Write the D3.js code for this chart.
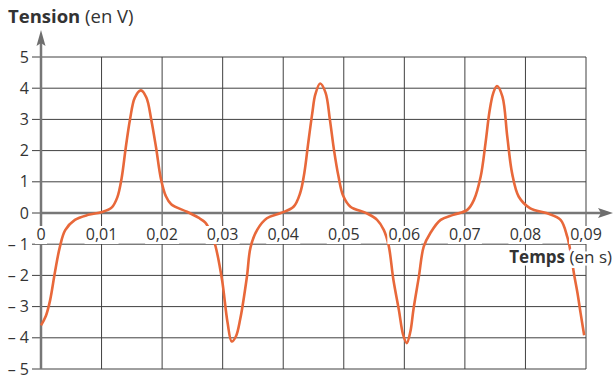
<!DOCTYPE html>
<html>
<head>
<meta charset="utf-8">
<script src="https://cdn.jsdelivr.net/npm/d3@7"></script>
<style>
  body { margin: 0; background: #fff; }
  svg { display: block; font-family: 'Open Sans', sans-serif; }
</style>
</head>
<body>
<div id="chart"></div>
<script>
// data
var times = [0.0000, 0.0008, 0.0015, 0.0023, 0.0031, 0.0040, 0.0056, 0.0078, 0.0101, 0.0117,
    0.0126, 0.0133, 0.0140, 0.0147, 0.0155, 0.0165, 0.0174, 0.0182, 0.0190, 0.0198,
    0.0206, 0.0215, 0.0241, 0.0260, 0.0271, 0.0280, 0.0288, 0.0299, 0.0308, 0.0315,
    0.0322, 0.0329, 0.0340, 0.0346, 0.0357, 0.0373, 0.0395, 0.0417, 0.0428, 0.0435,
    0.0441, 0.0448, 0.0453, 0.0461, 0.0470, 0.0477, 0.0484, 0.0491, 0.0499, 0.0511,
    0.0538, 0.0555, 0.0566, 0.0574, 0.0582, 0.0591, 0.0598, 0.0604, 0.0610, 0.0615,
    0.0624, 0.0632, 0.0643, 0.0660, 0.0681, 0.0704, 0.0715, 0.0726, 0.0734, 0.0741,
    0.0747, 0.0753, 0.0762, 0.0770, 0.0778, 0.0789, 0.0808, 0.0836, 0.0858, 0.0869,
    0.0875, 0.0880, 0.0886, 0.0891, 0.0897];
var tension = [-3.6, -3.3, -2.8, -1.9, -1.1, -0.55, -0.22, -0.06, 0.03, 0.18,
    0.5, 1.1, 2.1, 3.0, 3.7, 3.93, 3.7, 3.0, 2.1, 1.1,
    0.55, 0.28, 0.04, -0.15, -0.3, -0.6, -1.05, -2.15, -3.5, -4.12,
    -3.95, -3.4, -2.05, -1.1, -0.54, -0.17, -0.01, 0.2, 0.64, 1.3,
    2.2, 3.2, 3.8, 4.15, 3.85, 3.0, 2.0, 1.2, 0.55, 0.2,
    -0.01, -0.22, -0.54, -1.03, -2.15, -3.11, -3.9, -4.17, -3.8, -3.1,
    -2.04, -1.08, -0.64, -0.22, -0.06, 0.1, 0.42, 1.16, 2.23, 3.3,
    3.85, 4.07, 3.73, 2.45, 1.27, 0.52, 0.15, -0.01, -0.22, -0.76,
    -1.3, -1.93, -2.57, -3.2, -3.92];
var xTicks = [0, 0.01, 0.02, 0.03, 0.04, 0.05, 0.06, 0.07, 0.08, 0.09];
var yTicks = [-5, -4, -3, -2, -1, 0, 1, 2, 3, 4, 5];

var width = 614, height = 377;

var svg = d3.select('#chart').append('svg')
    .attr('width', width)
    .attr('height', height);

var x = d3.scaleLinear().domain([0, 0.09]).range([41, 586]);
var y = d3.scaleLinear().domain([-5, 5]).range([369, 57]);

var fr = d3.formatLocale({decimal: ',', thousands: ' ', grouping: [3], currency: ['', '']}).format('.2f');

// GRID
svg.append('g').selectAll('line.h')
    .data(yTicks)
    .join('line')
    .attr('x1', 32)
    .attr('x2', x(0.09))
    .attr('y1', function(d){ return y(d); })
    .attr('y2', function(d){ return y(d); })
    .attr('stroke', '#404040')
    .attr('stroke-width', 1);

svg.append('g').selectAll('line.v')
    .data(xTicks.slice(1))
    .join('line')
    .attr('x1', function(d){ return x(d); })
    .attr('x2', function(d){ return x(d); })
    .attr('y1', y(5))
    .attr('y2', y(-5))
    .attr('stroke', '#404040')
    .attr('stroke-width', 1);

// AXES
svg.append('line')
    .attr('x1', x(0)).attr('x2', x(0))
    .attr('y1', 42).attr('y2', y(-5))
    .attr('stroke', '#777').attr('stroke-width', 2.5);
svg.append('path')
    .attr('d', 'M' + x(0) + ',30 L' + (x(0) + 4.5) + ',46 L' + x(0) + ',43 L' + (x(0) - 4.5) + ',46 Z')
    .attr('fill', '#6e6e6e');

svg.append('line')
    .attr('x1', x(0)).attr('x2', 602)
    .attr('y1', y(0)).attr('y2', y(0))
    .attr('stroke', '#777').attr('stroke-width', 2.5);
svg.append('path')
    .attr('d', 'M613,' + y(0) + ' L598,' + (y(0) - 5) + ' L601,' + y(0) + ' L598,' + (y(0) + 5) + ' Z')
    .attr('fill', '#6e6e6e');

// CURVE
var line = d3.line()
    .x(function(d){ return x(d[0]); })
    .y(function(d){ return y(d[1]); })
    .curve(d3.curveCatmullRom.alpha(0.5));

svg.append('path')
    .datum(d3.zip(times, tension))
    .attr('d', line)
    .attr('fill', 'none')
    .attr('stroke', '#e8683a')
    .attr('stroke-width', 2.6)
    .attr('stroke-linejoin', 'round');

// X TICK LABELS (white box hides grid and curve underneath)
var xl = svg.append('g').selectAll('g')
    .data(xTicks)
    .join('g')
    .attr('transform', function(d){ return 'translate(' + x(d) + ',240)'; });

xl.append('rect')
    .attr('x', function(d){ return d === 0 ? -6 : -17; })
    .attr('y', -14)
    .attr('width', function(d){ return d === 0 ? 12 : 34; })
    .attr('height', 18)
    .attr('fill', '#fff');

xl.append('text')
    .attr('text-anchor', 'middle')
    .attr('font-size', '16px')
    .attr('fill', '#333')
    .text(function(d){ return d === 0 ? '0' : fr(d); });

// Y TICK LABELS
svg.append('g').selectAll('text')
    .data(yTicks)
    .join('text')
    .attr('x', 29)
    .attr('y', function(d){ return y(d) + 5.5; })
    .attr('text-anchor', 'end')
    .attr('font-size', '16px')
    .attr('fill', '#333')
    .text(function(d){ return d < 0 ? '\u2013 ' + (-d) : d; });

// AXIS NAMES
var tx = svg.append('text')
    .attr('x', 612)
    .attr('y', 263)
    .attr('text-anchor', 'end')
    .attr('font-size', '17px')
    .attr('fill', '#333')
    .attr('stroke', '#fff')
    .attr('stroke-width', 5)
    .attr('paint-order', 'stroke');
tx.append('tspan').attr('font-weight', 'bold').text('Temps');
tx.append('tspan').text(' (en s)');

var ty = svg.append('text')
    .attr('x', 8)
    .attr('y', 23)
    .attr('font-size', '18.5px')
    .attr('fill', '#333');
ty.append('tspan').attr('font-weight', 'bold').text('Tension');
ty.append('tspan').text(' (en V)');
</script>
</body>
</html>
